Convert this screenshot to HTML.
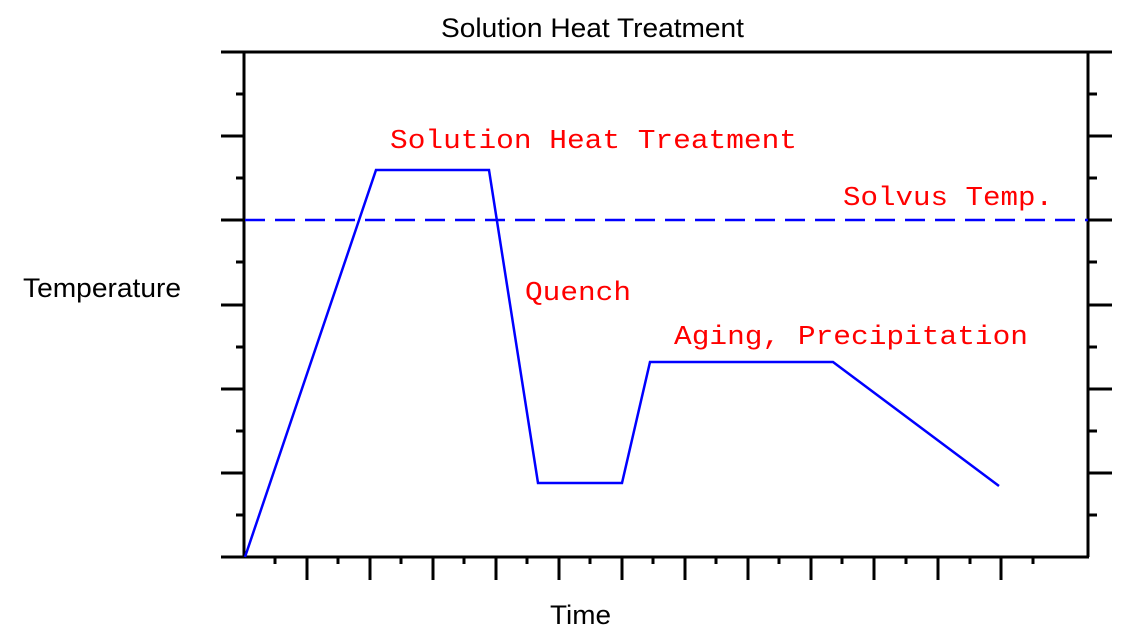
<!DOCTYPE html>
<html><head><style>body{margin:0;background:#fff}</style></head><body>
<svg width="1133" height="630" xmlns="http://www.w3.org/2000/svg">
<rect width="1133" height="630" fill="#fff"/>
<g stroke="#000" stroke-width="3" fill="none">
<path d="M221 557 H1089 M244 52 V557 M221 52 H1112 M1088 52 V557"/>
<path d="M221 473H244M221 389H244M221 305H244M221 220H244M221 136H244
M236 515H244M236 431H244M236 347H244M236 262H244M236 178H244M236 94H244
M1088 473H1112M1088 389H1112M1088 305H1112M1088 220H1112M1088 136H1112
M1088 515H1097M1088 431H1097M1088 347H1097M1088 262H1097M1088 178H1097M1088 94H1097
M307 557V580M370 557V580M433 557V580M496 557V580M559 557V580M622 557V580M685 557V580M748 557V580M811 557V580M874 557V580M938 557V580M1001 557V580
M275 557V564M338 557V564M401 557V564M464 557V564M527 557V564M590 557V564M653 557V564M716 557V564M779 557V564M842 557V564M906 557V564M970 557V564M1033 557V564"/>
</g>
<line x1="245" y1="220" x2="1088" y2="220" stroke="#0000ff" stroke-width="2.5" stroke-dasharray="20,10"/>
<polyline points="245,557 376,170 489,170 538,483 622,483 650,362 833,362 999,486" fill="none" stroke="#0000ff" stroke-width="2.5"/>
<g font-family="Liberation Sans, sans-serif" font-size="27" fill="#000">
<text x="441" y="37" textLength="303" lengthAdjust="spacingAndGlyphs">Solution Heat Treatment</text>
<text x="23" y="297" textLength="158" lengthAdjust="spacingAndGlyphs">Temperature</text>
<text x="550" y="624" textLength="61" lengthAdjust="spacingAndGlyphs">Time</text>
</g>
<g font-family="Liberation Mono, monospace" font-size="27" fill="#ff0000">
<text x="390" y="148" textLength="407" lengthAdjust="spacingAndGlyphs">Solution Heat Treatment</text>
<text x="843" y="205" textLength="210" lengthAdjust="spacingAndGlyphs">Solvus Temp.</text>
<text x="525" y="300" textLength="106" lengthAdjust="spacingAndGlyphs">Quench</text>
<text x="674" y="344" textLength="354" lengthAdjust="spacingAndGlyphs">Aging, Precipitation</text>
</g>
</svg>
</body></html>
